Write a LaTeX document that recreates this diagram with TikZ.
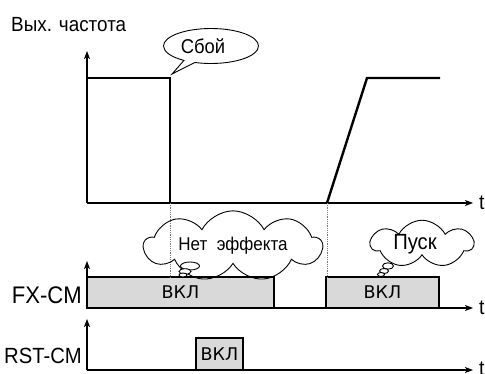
\documentclass[tikz,border=0pt]{standalone}
\usepackage{fontspec}
\setmainfont{Liberation Sans}
\newfontfamily\narrowf[FakeStretch=0.92]{Liberation Sans}
\newfontfamily\boxf{DejaVu Sans}
\usetikzlibrary{arrows.meta,shapes.callouts,shapes.symbols}
\definecolor{boxgray}{RGB}{217,217,217}
\definecolor{dotgray}{RGB}{120,120,120}
\begin{document}
\begin{tikzpicture}[x=1pt,y=-1pt,
  axis/.style={line width=1.1pt,-{Stealth[length=8pt,width=6pt,inset=2pt]}},
  sig/.style={line width=2.4pt,line join=miter},
  onbox/.style={draw,line width=1.1pt,fill=boxgray,inner sep=0pt,font=\boxf\fontsize{17.5}{19}\selectfont},
  lbl/.style={inner sep=0pt},
  tlbl/.style={inner sep=0pt,anchor=west,font=\narrowf\fontsize{21}{23}\selectfont},
  guide/.style={dotgray,densely dotted,line width=0.8pt},
  bubble/.style={draw,line width=0.9pt,inner sep=0pt},
  thought/.style={bubble,cloud,cloud puff arc=125},
  puff/.style={draw,line width=0.9pt,fill=white}]
\useasboundingbox (0,0) rectangle (485,374);
% title
\node[lbl,anchor=west,font=\narrowf\fontsize{20.5}{22}\selectfont] (title) at (11,25) {Вых. частота};
% axes coordinates
\coordinate (o1) at (87,203);
\coordinate (y1) at (87,51);
\coordinate (x1) at (473,203);
\coordinate (o2) at (87,308);
\coordinate (y2) at (87,261);
\coordinate (x2) at (473,308);
\coordinate (o3) at (87,370);
\coordinate (y3) at (87,319);
\coordinate (x3) at (473,370);
% signal points
\coordinate (s1) at (87,78);
\coordinate (s2) at (170,78);
\coordinate (s3) at (170,203);
\coordinate (r1) at (327,203);
\coordinate (r2) at (367,78);
\coordinate (r3) at (440,78);
\coordinate (d1) at (170,277);
\coordinate (d2) at (327,277);
% boxes
\node[onbox,minimum width=187pt,minimum height=31pt] (b1) at (180.5,292.5) {ВКЛ};
\node[onbox,minimum width=113pt,minimum height=31pt] (b2) at (382.5,292.5) {ВКЛ};
\node[onbox,minimum width=47pt,minimum height=32pt] (b3) at (219.5,354) {ВКЛ};
% axes
\draw[axis] (o1) -- (y1);
\draw[axis] (o1) -- (x1);
\draw[axis] (o2) -- (y2);
\draw[axis] (o2) -- (x2);
\draw[axis] (o3) -- (y3);
\draw[axis] (o3) -- (x3);
\node[tlbl] (t1) at (479,203) {t};
\node[tlbl] (t2) at (479,308) {t};
\node[tlbl] (t3) at (479,369) {t};
% signal
\draw[sig] (s1) -- (s2) -- (s3);
\draw[sig] (r1) -- (r2) -- (r3);
% dotted guides
\draw[guide] (s3) -- (d1);
\draw[guide] (r1) -- (d2);
% labels
\node[lbl,anchor=east,font=\narrowf\fontsize{24}{26}\selectfont] (fx) at (82,295) {FX-CM};
\node[lbl,anchor=east,font=\narrowf\fontsize{22}{24}\selectfont] (rst) at (82,356) {RST-CM};
% speech callout
\node[bubble,ellipse callout,minimum width=95pt,minimum height=35pt,
  callout absolute pointer={(172,74)},
  font=\narrowf\fontsize{20}{22}\selectfont] (sboy) at (211,46) {Сбой\hspace*{16pt}};
% thought clouds
\node[thought,cloud puffs=9,aspect=3.8,
  minimum width=178pt,minimum height=46pt,
  font=\narrowf\fontsize{18.5}{20}\selectfont] (net) at (233,246) {Нет\ \ эффекта};
\draw[puff] (190,266) ellipse [x radius=9.5, y radius=4];
\draw[puff] (185,271.5) ellipse [x radius=6, y radius=2.8];
\draw[puff] (183,275) ellipse [x radius=4, y radius=2];
\node[thought,cloud puffs=7,aspect=2.8,
  minimum width=102pt,minimum height=38pt,
  font=\narrowf\fontsize{22}{24}\selectfont] (pusk) at (422,244) {Пуск\hspace*{14pt}};
\draw[puff] (388,266) ellipse [x radius=5.5, y radius=3.2];
\draw[puff] (384,271) ellipse [x radius=4.5, y radius=2.5];
\draw[puff] (381,274.5) ellipse [x radius=3.5, y radius=2];
\end{tikzpicture}
\end{document}
